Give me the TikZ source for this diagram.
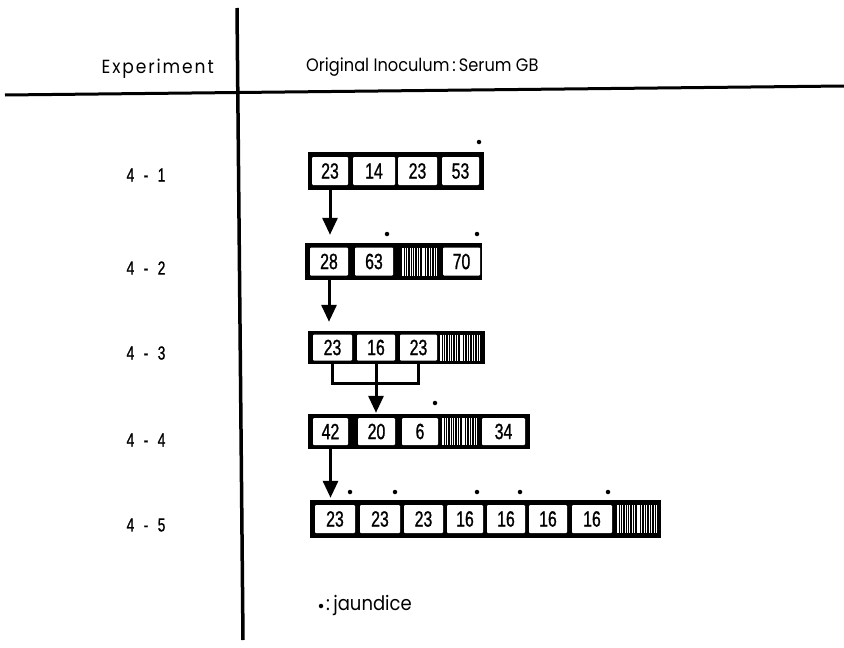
\documentclass[tikz,border=0pt]{standalone}
\usepackage{fontspec}
\setmainfont{Poppins}
\newfontfamily\hdrfont[FakeStretch=0.9]{Poppins}
\newfontfamily\spacedfont[FakeStretch=0.9, LetterSpace=10]{Poppins}
\newfontfamily\numfont[FakeStretch=0.72, FakeBold=1]{Liberation Sans}
\usetikzlibrary{arrows.meta}
\begin{document}
\begin{tikzpicture}[x=1pt,y=-1pt,
  cell/.style={fill=white, inner sep=0pt, minimum height=28pt, rounded corners=1pt,
    font=\numfont\fontsize{22}{22}\selectfont},
  outerbox/.style={fill=black, inner sep=0pt},
  arr/.style={line width=3pt, -{Triangle[width=15pt,length=17pt]}},
  con/.style={line width=3pt},
  jd/.style={circle, fill=black, inner sep=0pt, minimum size=4.5pt},
  lab/.style={font=\numfont\fontsize{19}{19}\selectfont},
  hdr/.style={font=\hdrfont\fontsize{18}{18}\selectfont, inner sep=0pt},
  hatch/.style={fill=black, inner sep=0pt, minimum height=28pt, path picture={
    \foreach \p/\w in {1/1.2, 3.4/0.8, 5.6/1.5, 8.1/1, 10.4/0.7, 12.6/1.3, 15.1/0.9, 17.4/1.2,
      19.9/0.8, 22.1/1.4, 24.8/1, 27.3/0.8, 29.8/1.2, 32.4/0.9, 34.9/1.1, 37.4/0.8, 39.8/1.2}
      \draw[white, line width=\w pt] ([xshift=\p pt]path picture bounding box.north west)
        -- ([xshift=\p pt]path picture bounding box.south west);}}]
\useasboundingbox (0,0) rectangle (844,648);

% axes
\coordinate (vt) at (237,8);
\coordinate (vb) at (243,640);
\coordinate (hl) at (5,95);
\coordinate (hr) at (844,86);
\draw[line width=3.5pt] (vt) -- (vb);
\draw[line width=3pt] (hl) -- (hr);

% headers
\node[hdr, font=\spacedfont\fontsize{19}{19}\selectfont, anchor=east] (hexp) at (214,69) {Experiment};
\node[hdr, anchor=west] (hino) at (306,67) {Original Inoculum\,:\,Serum GB};

% row labels
\node[lab] (l1) at (146,175) {4\enspace-\enspace1};
\node[lab] (l2) at (146,268) {4\enspace-\enspace2};
\node[lab] (l3) at (146,353) {4\enspace-\enspace3};
\node[lab] (l4) at (146,440) {4\enspace-\enspace4};
\node[lab] (l5) at (146,525) {4\enspace-\enspace5};

% row 1
\node[outerbox, minimum width=176pt, minimum height=38pt] (r1) at (396,171) {};
\node[cell, minimum width=36pt] (c11) at (330,171) {23};
\node[cell, minimum width=42pt] (c12) at (374,171) {14};
\node[cell, minimum width=39pt] (c13) at (417.5,171) {23};
\node[cell, minimum width=37pt] (c14) at (460.5,171) {53};
\node[jd] (j14) at (479,142) {};

% row 2
\node[outerbox, minimum width=177pt, minimum height=37pt] (r2) at (393.5,261.5) {};
\node[cell, minimum width=38pt] (c21) at (329,261.5) {28};
\node[cell, minimum width=38pt] (c22) at (374,261.5) {63};
\node[hatch, minimum width=35pt] (h2) at (419.5,261.5) {};
\node[cell, minimum width=37pt] (c24) at (461.5,261.5) {70};
\node[jd] (j22) at (387,234) {};
\node[jd] (j24) at (477,234) {};

% row 3
\node[outerbox, minimum width=177pt, minimum height=33pt] (r3) at (396.5,347.5) {};
\node[cell, minimum width=39pt, minimum height=26pt] (c31) at (332.5,347.5) {23};
\node[cell, minimum width=38pt, minimum height=26pt] (c32) at (376,347.5) {16};
\node[cell, minimum width=37pt, minimum height=26pt] (c33) at (418.5,347.5) {23};
\node[hatch, minimum width=42pt, minimum height=26pt] (h3) at (461,347.5) {};

% row 4
\node[outerbox, minimum width=222pt, minimum height=35pt] (r4) at (419,431.5) {};
\node[cell, minimum width=35pt, minimum height=27pt] (c41) at (330.5,431.5) {42};
\node[cell, minimum width=37pt, minimum height=27pt] (c42) at (376.5,431.5) {20};
\node[cell, minimum width=36pt, minimum height=27pt] (c43) at (420,431.5) {6};
\node[hatch, minimum width=35pt, minimum height=27pt] (h4) at (459.5,431.5) {};
\node[cell, minimum width=43pt, minimum height=27pt] (c45) at (503.5,431.5) {34};
\node[jd] (j43) at (435,403) {};

% row 5
\node[outerbox, minimum width=351pt, minimum height=38pt] (r5) at (485.5,519) {};
\node[cell, minimum width=40pt] (c51) at (335,519) {23};
\node[cell, minimum width=40pt] (c52) at (380,519) {23};
\node[cell, minimum width=39pt] (c53) at (423.5,519) {23};
\node[cell, minimum width=36pt] (c54) at (465,519) {16};
\node[cell, minimum width=38pt] (c55) at (506,519) {16};
\node[cell, minimum width=38pt] (c56) at (548,519) {16};
\node[cell, minimum width=40pt] (c57) at (592,519) {16};
\node[hatch, minimum width=40pt] (h5) at (637,519) {};
\node[jd] (j51) at (350,492) {};
\node[jd] (j52) at (395,492) {};
\node[jd] (j54) at (477,492) {};
\node[jd] (j55) at (520,492) {};
\node[jd] (j57) at (608,492) {};

% connectors
\draw[arr, shorten >=8pt] (c11 |- r1.south) -- (c11 |- r2.north);
\draw[arr, shorten >=9pt] (c21 |- r2.south) -- (c21 |- r3.north);
\draw[con] (c31 |- r3.south) -- ++(0,19) -| (c33 |- r3.south);
\draw[arr, shorten >=1pt] (c32 |- r3.south) -- (c32 |- r4.north);
\draw[arr, shorten >=2pt] (c41 |- r4.south) -- (c41 |- r5.north);

% legend
\node[jd] (ljd) at (321,606) {};
\node[hdr, font=\hdrfont\fontsize{20}{20}\selectfont, anchor=base west] (ltxt) at (326,610) {:\,jaundice};
\end{tikzpicture}
\end{document}
